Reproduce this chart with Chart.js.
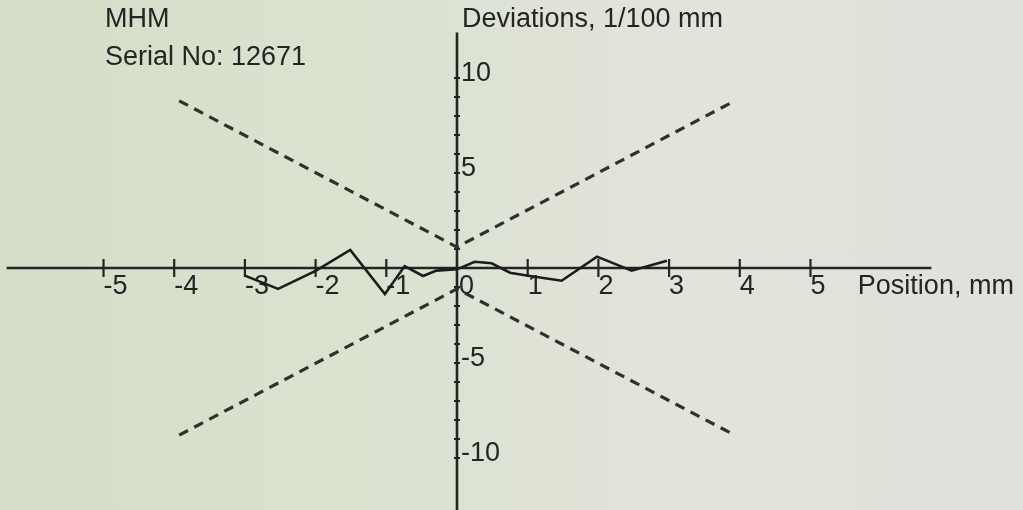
<!DOCTYPE html>
<html>
<head>
<meta charset="utf-8">
<script src="https://cdn.jsdelivr.net/npm/chart.js@4/dist/chart.umd.min.js"></script>
<style>
  html, body { margin: 0; padding: 0; }
  body {
    width: 1023px; height: 510px; overflow: hidden;
    background: linear-gradient(to right, #d5dec8 0%, #dbe2d0 35%, #e1e4db 70%, #dfe1da 100%);
  }
  #chart { display: block; }
</style>
</head>
<body>
<canvas id="chart" width="1023" height="510"></canvas>
<script>
// measured profile (position mm, deviation 1/100 mm)
const positions  = [-3.0, -2.53, -2.0, -1.51, -1.02, -0.74, -0.48, -0.29, 0.0, 0.25, 0.49, 0.75, 1.03, 1.48, 1.98, 2.47, 2.97];
const deviations = [-0.4, -1.1, -0.15, 0.95, -1.37, 0.1, -0.42, -0.14, -0.07, 0.33, 0.25, -0.25, -0.42, -0.67, 0.6, -0.14, 0.38];

// tolerance lines
const tolPositions = [-3.93, 0, 3.93];
const tolUpper = [8.8, 1.1, 8.8];
const tolLower = [-8.8, -1.1, -8.8];

// axes
const xTickValues = [-5, -4, -3, -2, -1, 0, 1, 2, 3, 4, 5];
const xTickLabels = ["-5", "-4", "-3", "-2", "-1", "0", "1", "2", "3", "4", "5"];
const yMinorTicks = [-10, -9, -8, -7, -6, -5, -4, -3, -2, -1, 1, 2, 3, 4, 5, 6, 7, 8, 9, 10];
const yLabelValues = [10, 5, -5, -10];
const yLabelTexts = ["10", "5", "-5", "-10"];
const xAxisExtent = [-6.37, 6.71];
const yAxisExtent = [-12.8, 12.4];

const FONT = "27px 'Liberation Sans', Arial, sans-serif";
const INK = "#242424";

const toPts = (xs, ys) => xs.map((x, i) => ({ x: x, y: ys[i] }));

// axes, ticks and labels drawn from the chart scales
const axesPlugin = {
    id: "axes",
    beforeDatasetsDraw(chart) {
        const ctx = chart.ctx;
        const xs = chart.scales.x, ys = chart.scales.y;
        const x0 = xs.getPixelForValue(0), y0 = ys.getPixelForValue(0);
        ctx.save();
        ctx.strokeStyle = INK;
        ctx.lineCap = "butt";

        // x axis
        ctx.lineWidth = 2.6;
        ctx.beginPath();
        ctx.moveTo(xs.getPixelForValue(xAxisExtent[0]), y0);
        ctx.lineTo(xs.getPixelForValue(xAxisExtent[1]), y0);
        ctx.stroke();

        // y axis
        ctx.beginPath();
        ctx.moveTo(x0, ys.getPixelForValue(yAxisExtent[1]));
        ctx.lineTo(x0, ys.getPixelForValue(yAxisExtent[0]));
        ctx.stroke();

        // x ticks
        ctx.lineWidth = 2.2;
        xTickValues.forEach(v => {
            if (v === 0) return;
            const px = xs.getPixelForValue(v);
            ctx.beginPath();
            ctx.moveTo(px, y0 - 9);
            ctx.lineTo(px, y0 + 9);
            ctx.stroke();
        });

        // y minor ticks
        ctx.lineWidth = 2;
        yMinorTicks.forEach(v => {
            const py = ys.getPixelForValue(v);
            ctx.beginPath();
            ctx.moveTo(x0 - 3, py);
            ctx.lineTo(x0 + 3, py);
            ctx.stroke();
        });

        // labels
        ctx.fillStyle = INK;
        ctx.font = FONT;
        ctx.textAlign = "left";
        ctx.textBaseline = "alphabetic";
        xTickValues.forEach((v, i) => {
            const px = xs.getPixelForValue(v);
            ctx.fillText(xTickLabels[i], px + (v === 0 ? 2 : 0), y0 + 26);
        });
        yLabelValues.forEach((v, i) => {
            const py = ys.getPixelForValue(v);
            ctx.fillText(yLabelTexts[i], x0 + 4, py + 3);
        });

        ctx.fillText("Position, mm", xs.getPixelForValue(5.67), y0 + 26);
        ctx.fillText("Deviations, 1/100 mm", x0 + 5, 27);
        ctx.fillText("MHM", 105, 27);
        ctx.fillText("Serial No: 12671", 105, 65);
        ctx.restore();
    }
};

new Chart(document.getElementById("chart"), {
    type: "scatter",
    data: {
        datasets: [
            {
                label: "Upper tolerance",
                data: toPts(tolPositions, tolUpper),
                showLine: true,
                borderColor: "#303030",
                borderWidth: 3.2,
                borderDash: [10, 7],
                pointRadius: 0,
                fill: false
            },
            {
                label: "Lower tolerance",
                data: toPts(tolPositions, tolLower),
                showLine: true,
                borderColor: "#303030",
                borderWidth: 3.2,
                borderDash: [10, 7],
                pointRadius: 0,
                fill: false
            },
            {
                label: "Deviation",
                data: toPts(positions, deviations),
                showLine: true,
                borderColor: "#1c1c1c",
                borderWidth: 2.6,
                pointRadius: 0,
                tension: 0,
                fill: false
            }
        ]
    },
    options: {
        responsive: false,
        animation: false,
        devicePixelRatio: 1,
        layout: { padding: 0 },
        plugins: {
            legend: { display: false },
            tooltip: { enabled: false }
        },
        scales: {
            x: { type: "linear", min: -6.464, max: 8.006, display: false },
            y: { type: "linear", min: -12.737, max: 14.105, display: false }
        }
    },
    plugins: [axesPlugin]
});
</script>
</body>
</html>
